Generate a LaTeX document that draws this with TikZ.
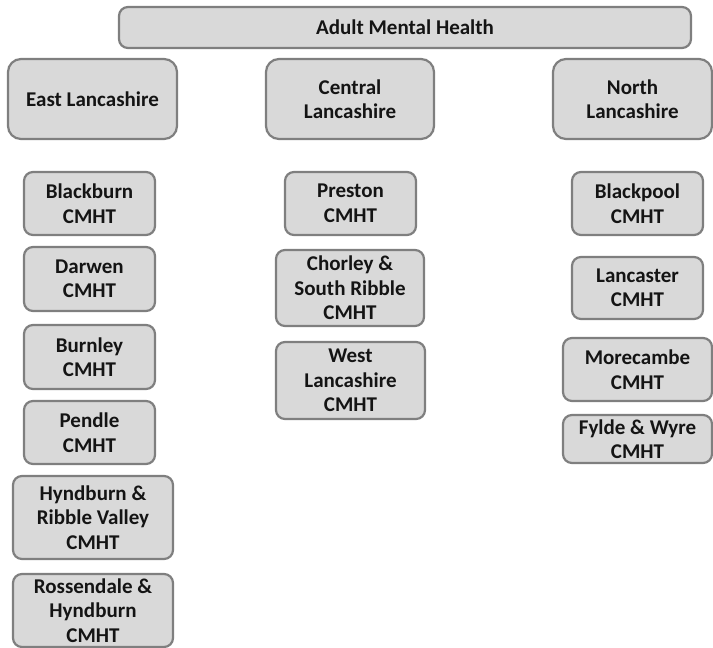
\documentclass[tikz,border=0pt]{standalone}
\usepackage{fontspec}
\setmainfont{Carlito}
\definecolor{cellfill}{HTML}{D9D9D9}
\definecolor{cellline}{HTML}{7F7F7F}
\definecolor{celltext}{HTML}{141414}
\tikzset{
  cell/.style={draw=cellline, fill=cellfill, line width=2.2pt,
    rounded corners=9pt, inner sep=0pt, outer sep=0pt, align=center,
    text=celltext, font=\bfseries\fontsize{21}{24.5}\selectfont},
  region/.style={cell, rounded corners=13pt}
}
% \unitbox{name}{left}{top}{right}{bottom}{style}{text}
\newcommand\unitbox[7]{%
  \node[#6, minimum width={(#4-#2)*1pt}, minimum height={(#5-#3)*1pt}]
    (#1) at ({(#2+#4)/2},{(#3+#5)/2}) {#7};}
\begin{document}
\begin{tikzpicture}[x=1pt,y=-1pt]
\useasboundingbox (0,0) rectangle (713,648);
% service heading
\unitbox{amh}{119}{7}{691}{48}{cell}{Adult Mental Health}
% localities
\unitbox{east}{8}{59}{177}{139}{region}{East Lancashire}
\unitbox{central}{266}{59}{434}{139}{region}{Central\\Lancashire}
\unitbox{north}{553}{59}{712}{139}{region}{North\\Lancashire}
% East Lancashire teams
\unitbox{blackburn}{24}{172}{155}{235}{cell}{Blackburn\\CMHT}
\unitbox{darwen}{24}{247}{155}{311}{cell}{Darwen\\CMHT}
\unitbox{burnley}{24}{325}{155}{389}{cell}{Burnley\\CMHT}
\unitbox{pendle}{24}{401}{155}{464}{cell}{Pendle\\CMHT}
\unitbox{hyndribble}{13}{476}{173}{559}{cell}{Hyndburn \&\\Ribble Valley\\CMHT}
\unitbox{rossendale}{13}{574}{173}{647}{cell}{Rossendale \&\\Hyndburn\\CMHT}
% Central Lancashire teams
\unitbox{preston}{285}{172}{416}{235}{cell}{Preston\\CMHT}
\unitbox{chorley}{276}{250}{424}{326}{cell}{Chorley \&\\South Ribble\\CMHT}
\unitbox{westlancs}{276}{342}{425}{419}{cell}{West\\Lancashire\\CMHT}
% North Lancashire teams
\unitbox{blackpool}{572}{172}{703}{235}{cell}{Blackpool\\CMHT}
\unitbox{lancaster}{572}{257}{703}{319}{cell}{Lancaster\\CMHT}
\unitbox{morecambe}{563}{338}{712}{401}{cell}{Morecambe\\CMHT}
\unitbox{fylde}{563}{415}{712}{463}{cell}{Fylde \& Wyre\\CMHT}
\end{tikzpicture}
\end{document}
